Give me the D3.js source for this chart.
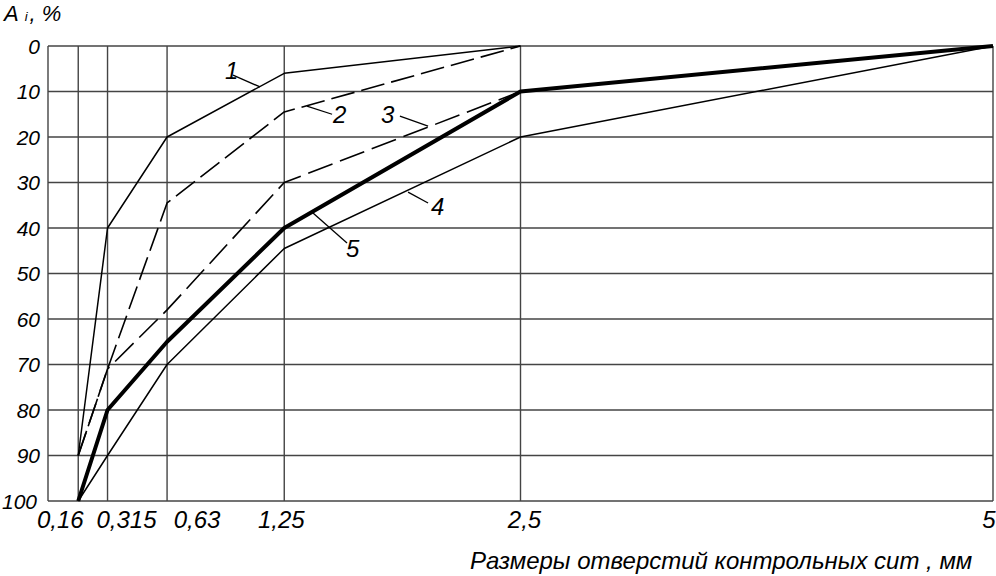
<!DOCTYPE html>
<html>
<head>
<meta charset="utf-8">
<script src="https://cdn.jsdelivr.net/npm/d3@7"></script>
<style>
  html, body { margin: 0; padding: 0; background: #fff; }
  svg { display: block; font-family: "Liberation Sans", Arial, sans-serif; font-style: italic; }
</style>
</head>
<body>
<svg id="chart" width="996" height="576"></svg>
<script>
// ---- data ----
const sieveSizes = [0.16, 0.315, 0.63, 1.25, 2.5, 5];
const sieveLabels = ["0,16", "0,315", "0,63", "1,25", "2,5", "5"];
const yTicks = [0, 10, 20, 30, 40, 50, 60, 70, 80, 90, 100];

const curve1 = [[0.16, 90], [0.315, 40], [0.63, 20], [1.25, 6], [2.5, 0]];
const curve2 = [[0.16, 90], [0.315, 71], [0.63, 34.5], [1.25, 14.5], [2.5, 0]];
const curve3 = [[0.16, 90], [0.315, 71], [0.63, 58], [1.25, 30], [2.5, 10]];
const curve4 = [[0.16, 100], [0.315, 90], [0.63, 70], [1.25, 44.5], [2.5, 20], [5, 0]];
const curve5 = [[0.16, 100], [0.315, 80], [0.63, 65], [1.25, 40], [2.5, 10], [5, 0]];

const curveNames = ["1", "2", "3", "4", "5"];
// leader lines: [x1,y1,x2,y2] in data units, label anchor [x,y]
const leaders = [
  [0.979, 6.4, 1.122, 9.0],
  [1.370, 13.2, 1.503, 15.0],
  [1.862, 15.4, 2.011, 17.6],
  [1.905, 32.1, 2.011, 34.5],
  [1.402, 36.7, 1.582, 43.3]
];
const labelPos = [[0.937, 7.3], [1.508, 16.9], [1.762, 16.9], [2.026, 37.1], [1.577, 46.4]];

// ---- drawing ----
const svg = d3.select("#chart");
const x = d3.scaleLinear().domain([0, 5]).range([48, 993]);
const y = d3.scaleLinear().domain([0, 100]).range([46, 501]);

const gridColor = "#444";

// horizontal grid
svg.append("g").selectAll("line").data(yTicks).join("line")
  .attr("x1", x(0)).attr("x2", x(5))
  .attr("y1", d => y(d)).attr("y2", d => y(d))
  .attr("stroke", gridColor).attr("stroke-width", 1.4);

// vertical grid (frame left + sieve sizes)
svg.append("g").selectAll("line").data([0].concat(sieveSizes)).join("line")
  .attr("x1", d => x(d)).attr("x2", d => x(d))
  .attr("y1", y(0)).attr("y2", y(100))
  .attr("stroke", gridColor).attr("stroke-width", 1.4);

// y tick labels
svg.append("g").selectAll("text").data(yTicks).join("text")
  .attr("x", d => d === 100 ? x(0) - 11 : x(0) - 8)
  .attr("y", d => y(d))
  .attr("dy", "0.36em")
  .attr("text-anchor", "end")
  .attr("font-size", 21)
  .text(d => d);

// x tick labels
const xLabelShift = [-18, 19, 30, -3, 4, -4];
svg.append("g").selectAll("text").data(sieveSizes).join("text")
  .attr("x", (d, i) => x(d) + xLabelShift[i])
  .attr("y", 528)
  .attr("text-anchor", "middle")
  .attr("font-size", 24)
  .text((d, i) => sieveLabels[i]);

// axis titles
const yt = svg.append("text").attr("x", 4).attr("y", 21).attr("font-size", 22);
yt.append("tspan").text("A");
yt.append("tspan").attr("font-size", 13).attr("dx", 6).text("i");
yt.append("tspan").attr("dx", 2).text(", %");

svg.append("text").attr("x", 470).attr("y", 569).attr("font-size", 24)
  .text("Размеры отверстий контрольных сит , мм");

// curves
const line = d3.line().x(d => x(d[0])).y(d => y(d[1]));
const curves = [curve1, curve2, curve3, curve4, curve5];
const styles = [
  { w: 1.5, dash: null },
  { w: 1.6, dash: "24,7" },
  { w: 1.6, dash: "26,8" },
  { w: 1.5, dash: null },
  { w: 4, dash: null }
];
svg.append("g").selectAll("path").data(curves).join("path")
  .attr("d", d => line(d))
  .attr("fill", "none")
  .attr("stroke", "#000")
  .attr("stroke-width", (d, i) => styles[i].w)
  .attr("stroke-dasharray", (d, i) => styles[i].dash)
  .attr("stroke-linejoin", "round");

// leader lines
svg.append("g").selectAll("line").data(leaders).join("line")
  .attr("x1", d => x(d[0])).attr("y1", d => y(d[1]))
  .attr("x2", d => x(d[2])).attr("y2", d => y(d[3]))
  .attr("stroke", "#000").attr("stroke-width", 1.3);

// curve labels
svg.append("g").selectAll("text").data(labelPos).join("text")
  .attr("x", d => x(d[0])).attr("y", d => y(d[1]))
  .attr("font-size", 24)
  .text((d, i) => curveNames[i]);
</script>
</body>
</html>
